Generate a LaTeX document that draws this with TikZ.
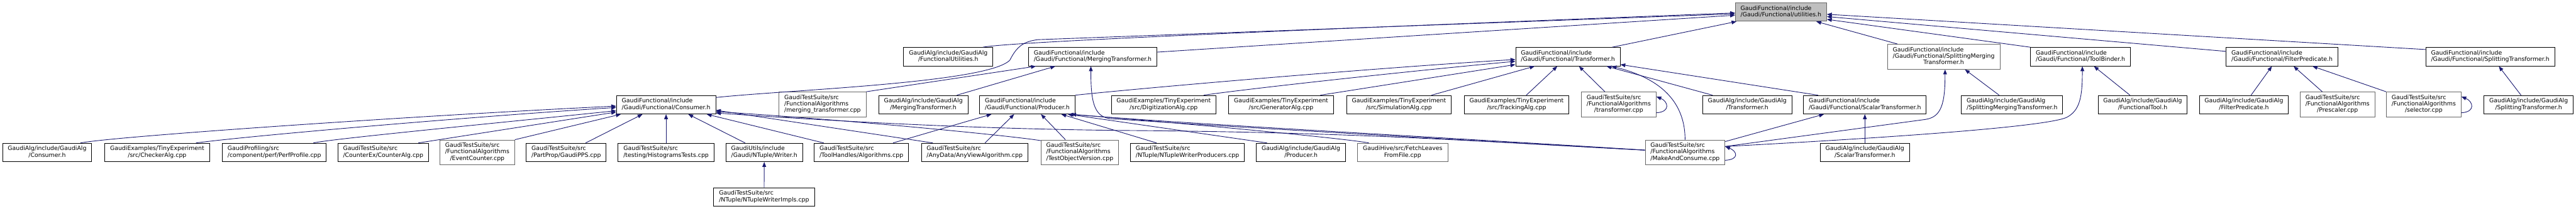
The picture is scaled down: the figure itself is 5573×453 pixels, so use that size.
\documentclass[tikz,border=0pt]{standalone}
\usepackage{fontspec}
\newfontfamily\dxfont{DejaVu Sans}
\usetikzlibrary{arrows.meta, calc}
\definecolor{edgeblue}{HTML}{191970}
\definecolor{rootgray}{HTML}{BFBFBF}
\definecolor{bordergray}{HTML}{666666}
% label: all lines but the last flush left, last line centred
\newcommand{\dlab}[2]{\begin{tabular}{@{}l@{}}#1\\\multicolumn{1}{@{}c@{}}{#2}\end{tabular}}

\begin{document}
\begin{tikzpicture}[
  x=0.2mm, y=0.2mm,
  every node/.style={font=\dxfont\fontsize{7.25}{8}\selectfont},
  file/.style={rectangle, draw=black, line width=0.7pt, fill=white, inner xsep=6.5pt, inner ysep=3.4pt},
  gfile/.style={file, draw=bordergray},
  rootfile/.style={file, draw=bordergray, fill=rootgray},
  incl/.style={-{Triangle[length=6pt, width=4.6pt]}, edgeblue, line width=0.7pt}
]
\useasboundingbox (0,0) rectangle (5573,-453);

% root
\node[rootfile] (util) at (3853,-26) {\dlab{GaudiFunctional/include}{/Gaudi/Functional/utilities.h}};

% first row
\node[file] (funcutil) at (2051.5,-123) {\dlab{GaudiAlg/include/GaudiAlg}{/FunctionalUtilities.h}};
\node[file] (mergetr) at (2364,-123) {\dlab{GaudiFunctional/include}{/Gaudi/Functional/MergingTransformer.h}};
\node[file] (transf) at (3392,-123) {\dlab{GaudiFunctional/include}{/Gaudi/Functional/Transformer.h}};
\node[gfile] (splitmerge) at (4205,-123) {\dlab{GaudiFunctional/include\\/Gaudi/Functional/SplittingMerging}{Transformer.h}};
\node[file] (toolbinder) at (4501,-123) {\dlab{GaudiFunctional/include}{/Gaudi/Functional/ToolBinder.h}};
\node[file] (filterpred) at (4937,-123) {\dlab{GaudiFunctional/include}{/Gaudi/Functional/FilterPredicate.h}};
\node[file] (splittr) at (5387.5,-123) {\dlab{GaudiFunctional/include}{/Gaudi/Functional/SplittingTransformer.h}};

% second row
\node[file] (consumer) at (1441,-227) {\dlab{GaudiFunctional/include}{/Gaudi/Functional/Consumer.h}};
\node[gfile] (mergecpp) at (1779.5,-226.5) {\dlab{GaudiTestSuite/src\\/FunctionalAlgorithms}{/merging\_transformer.cpp}};
\node[file] (algmerge) at (1997.5,-227) {\dlab{GaudiAlg/include/GaudiAlg}{/MergingTransformer.h}};
\node[file] (producer) at (2222.5,-227) {\dlab{GaudiFunctional/include}{/Gaudi/Functional/Producer.h}};
\node[file] (digi) at (2517.5,-227) {\dlab{GaudiExamples/TinyExperiment}{/src/DigitizationAlg.cpp}};
\node[file] (gener) at (2771.5,-227) {\dlab{GaudiExamples/TinyExperiment}{/src/GeneratorAlg.cpp}};
\node[file] (simul) at (3026.5,-227) {\dlab{GaudiExamples/TinyExperiment}{/src/SimulationAlg.cpp}};
\node[file] (track) at (3281,-227) {\dlab{GaudiExamples/TinyExperiment}{/src/TrackingAlg.cpp}};
\node[gfile] (transfcpp) at (3502,-226.5) {\dlab{GaudiTestSuite/src\\/FunctionalAlgorithms}{/transformer.cpp}};
\node[file] (algtransf) at (3780,-227) {\dlab{GaudiAlg/include/GaudiAlg}{/Transformer.h}};
\node[file] (scalar) at (4034.5,-227) {\dlab{GaudiFunctional/include}{/Gaudi/Functional/ScalarTransformer.h}};
\node[file] (algsplitmerge) at (4353,-227) {\dlab{GaudiAlg/include/GaudiAlg}{/SplittingMergingTransformer.h}};
\node[file] (functool) at (4635.5,-227) {\dlab{GaudiAlg/include/GaudiAlg}{/FunctionalTool.h}};
\node[file] (algfilter) at (4854.5,-227) {\dlab{GaudiAlg/include/GaudiAlg}{/FilterPredicate.h}};
\node[gfile] (prescaler) at (5057,-226.5) {\dlab{GaudiTestSuite/src\\/FunctionalAlgorithms}{/Prescaler.cpp}};
\node[gfile] (selector) at (5243.5,-226.5) {\dlab{GaudiTestSuite/src\\/FunctionalAlgorithms}{/selector.cpp}};
\node[file] (algsplit) at (5470.5,-227) {\dlab{GaudiAlg/include/GaudiAlg}{/SplittingTransformer.h}};

% third row
\node[file] (algconsumer) at (102,-330.5) {\dlab{GaudiAlg/include/GaudiAlg}{/Consumer.h}};
\node[file] (checker) at (340,-330.5) {\dlab{GaudiExamples/TinyExperiment}{/src/CheckerAlg.cpp}};
\node[file] (perf) at (593.5,-330.5) {\dlab{GaudiProfiling/src}{/component/perf/PerfProfile.cpp}};
\node[file] (counter) at (829,-330.5) {\dlab{GaudiTestSuite/src}{/CounterEx/CounterAlg.cpp}};
\node[gfile] (evcounter) at (1032.5,-330.5) {\dlab{GaudiTestSuite/src\\/FunctionalAlgorithms}{/EventCounter.cpp}};
\node[file] (pps) at (1225,-330.5) {\dlab{GaudiTestSuite/src}{/PartProp/GaudiPPS.cpp}};
\node[file] (histo) at (1441,-330.5) {\dlab{GaudiTestSuite/src}{/testing/HistogramsTests.cpp}};
\node[file] (writer) at (1653.5,-330.5) {\dlab{GaudiUtils/include}{/Gaudi/NTuple/Writer.h}};
\node[file] (toolhandles) at (1863.5,-330.5) {\dlab{GaudiTestSuite/src}{/ToolHandles/Algorithms.cpp}};
\node[file] (anyview) at (2108.5,-330.5) {\dlab{GaudiTestSuite/src}{/AnyData/AnyViewAlgorithm.cpp}};
\node[gfile] (testobj) at (2336,-330.5) {\dlab{GaudiTestSuite/src\\/FunctionalAlgorithms}{/TestObjectVersion.cpp}};
\node[file] (ntupprod) at (2569,-330.5) {\dlab{GaudiTestSuite/src}{/NTuple/NTupleWriterProducers.cpp}};
\node[file] (algproducer) at (2814.5,-330.5) {\dlab{GaudiAlg/include/GaudiAlg}{/Producer.h}};
\node[gfile] (fetch) at (3034.5,-330.5) {\dlab{GaudiHive/src/FetchLeaves}{FromFile.cpp}};
\node[gfile] (makecons) at (3645.5,-330.5) {\dlab{GaudiTestSuite/src\\/FunctionalAlgorithms}{/MakeAndConsume.cpp}};
\node[file] (algscalar) at (4034.5,-330.5) {\dlab{GaudiAlg/include/GaudiAlg}{/ScalarTransformer.h}};

% fourth row
\node[file] (ntupimpl) at (1653,-427) {\dlab{GaudiTestSuite/src}{/NTuple/NTupleWriterImpls.cpp}};

% into utilities.h
\draw[incl] ($(funcutil.north)+(75,0)$) .. controls +(60,12) and +(-900,-35) .. ($(util.west)+(0,-2)$);
\draw[incl] ($(consumer.north east)+(0,-5)$) .. controls (1700,-195) and (2140,-180) .. (2185,-130) .. controls (2200,-100) and (2215,-90) .. (2245,-86) -- ($(util.west)+(0,-4)$);
\draw[incl] ($(mergetr.east)+(0,10)$) -- ($(util.west)+(0,-7)$);
\draw[incl] ($(transf.north east)+(-18,0)$) -- ($(util.south west)+(3,0)$);
\draw[incl] ($(splitmerge.north west)+(22,0)$) -- ($(util.south east)+(-23,0)$);
\draw[incl] (toolbinder.north west) -- ($(util.east)+(0,-16)$);
\draw[incl] ($(filterpred.north west)+(0,-9)$) -- ($(util.east)+(0,-10)$);
\draw[incl] ($(splittr.north west)+(0,-5)$) -- ($(util.east)+(0,-5)$);

% into Consumer.h
\draw[incl] ($(algconsumer.north)+(72,0)$) .. controls +(80,15) and +(-400,-19) .. ($(consumer.west)+(0,-3)$);
\draw[incl] ($(checker.north)+(84,0)$) .. controls +(120,16) and +(-300,-19) .. ($(consumer.west)+(0,-6)$);
\draw[incl] ($(perf.north)+(84.5,0)$) .. controls +(40,9) and +(-250,-26) .. ($(consumer.west)+(0,-13)$);
\draw[incl] ($(counter.north)+(76,0)$) -- ($(consumer.west)+(0,-16)$);
\draw[incl] (evcounter.north east) -- ($(consumer.south west)+(10,0)$);
\draw[incl] ($(pps.north)+(42,0)$) -- ($(consumer.south)+(-51,0)$);
\draw[incl] (histo) -- (consumer);
\draw[incl] ($(writer.north)+(-41.5,0)$) -- ($(consumer.south)+(48,0)$);
\draw[incl] ($(toolhandles.north)+(-81.5,0)$) -- ($(consumer.south east)+(-20,0)$);
\draw[incl] ($(anyview.north)+(-90.5,0)$) -- ($(consumer.east)+(0,-12)$);
\draw[incl] ($(testobj.north west)+(0,-2)$) .. controls +(-60,10) and +(300,-19) .. ($(consumer.east)+(0,-15)$);
\draw[incl] ($(makecons.west)+(0,5)$) .. controls (3200,-307) and (2950,-287) .. (2450,-283) .. controls (2100,-280) and (1800,-262) .. ($(consumer.east)+(0,-18)$);

% into Producer.h
\draw[incl] ($(toolhandles.north east)+(-34,0)$) -- ($(producer.south)+(-77.5,0)$);
\draw[incl] ($(anyview.north)+(22.5,0)$) -- ($(producer.south)+(-28.5,0)$);
\draw[incl] ($(testobj.north)+(-31,0)$) -- ($(producer.south)+(29.5,0)$);
\draw[incl] ($(ntupprod.north)+(-67,0)$) -- ($(producer.south)+(73.5,0)$);
\draw[incl] ($(algproducer.north)+(-73.5,0)$) -- ($(producer.south)+(87.5,0)$);
\draw[incl] ($(fetch.north west)+(25,0)$) .. controls +(-60,11) and +(200,-15) .. ($(producer.south)+(89.5,0)$);
\draw[incl] ($(makecons.west)+(0,5)$) .. controls (3200,-302) and (2550,-268) .. ($(producer.south)+(95,0)$);

% into MergingTransformer.h
\draw[incl] (mergecpp.north east) -- ($(mergetr.south)+(-123,0)$);
\draw[incl] ($(algmerge.north)+(72.5,0)$) -- ($(mergetr.south)+(-81,0)$);
\draw[incl] ($(makecons.west)+(0,5)$) .. controls (3200,-305) and (2700,-278) .. (2400,-257) .. controls (2365,-252) and (2360,-215) .. ($(mergetr.south)+(-4,0)$);

% into Transformer.h
\draw[incl] (producer.north east) .. controls +(150,16) and +(-300,-18) .. ($(transf.west)+(0,-6)$);
\draw[incl] ($(digi.north)+(86.5,0)$) .. controls +(80,12) and +(-250,-23) .. ($(transf.west)+(0,-10)$);
\draw[incl] ($(gener.north east)+(-29,0)$) -- ($(transf.west)+(0,-17)$);
\draw[incl] ($(simul.north)+(70.5,0)$) -- ($(transf.south)+(-72,0)$);
\draw[incl] ($(track.north)+(21,0)$) -- ($(transf.south)+(-23,0)$);
\draw[incl] ($(transfcpp.north)+(-30,0)$) -- ($(transf.south)+(24,0)$);
\draw[incl] ($(algtransf.north)+(-75,0)$) -- ($(transf.south east)+(-30,0)$);
\draw[incl] (makecons.north) .. controls +(0,100) and +(80,-20) .. ($(transf.south east)+(-19,0)$);
\draw[incl] ($(scalar.north west)+(32,0)$) -- ($(transf.east)+(0,-17)$);

% into ScalarTransformer.h
\draw[incl] ($(makecons.north east)+(0,-4)$) -- ($(scalar.south)+(-88.5,0)$);
\draw[incl] (algscalar) -- (scalar);

% into SplittingMergingTransformer.h
\draw[incl] ($(makecons.east)+(0,13)$) -- (4165,-259) .. controls (4200,-254) and (4208,-225) .. ($(splitmerge.south)+(3,0)$);
\draw[incl] ($(algsplitmerge.north)+(-28,0)$) -- ($(splitmerge.south)+(46,0)$);

% into ToolBinder.h
\draw[incl] ($(makecons.east)+(0,13)$) .. controls (4100,-298) and (4420,-275) .. (4470,-255) .. controls (4500,-240) and (4505,-210) .. ($(toolbinder.south)+(4,0)$);
\draw[incl] ($(functool.north)+(-27.5,0)$) -- ($(toolbinder.south)+(29,0)$);

% into FilterPredicate.h and SplittingTransformer.h
\draw[incl] ($(algfilter.north)+(15.5,0)$) -- ($(filterpred.south)+(-22,0)$);
\draw[incl] ($(prescaler.north)+(-33,0)$) -- ($(filterpred.south)+(25,0)$);
\draw[incl] (selector.north west) -- ($(filterpred.south)+(66,0)$);
\draw[incl] ($(algsplit.north)+(-16.5,0)$) -- ($(splittr.south)+(18.5,0)$);

% into Writer.h
\draw[incl] (ntupimpl) -- (writer);

% self loops
\draw[incl] ($(transfcpp.east)+(0,-18)$) .. controls +(32,2) and +(25,-10) .. ($(transfcpp.east)+(0,17)$);
\draw[incl] ($(makecons.east)+(0,-17)$) .. controls +(32,2) and +(25,-10) .. ($(makecons.east)+(0,13)$);
\draw[incl] ($(selector.east)+(0,-18)$) .. controls +(32,2) and +(25,-10) .. ($(selector.east)+(0,17)$);

\end{tikzpicture}
\end{document}
